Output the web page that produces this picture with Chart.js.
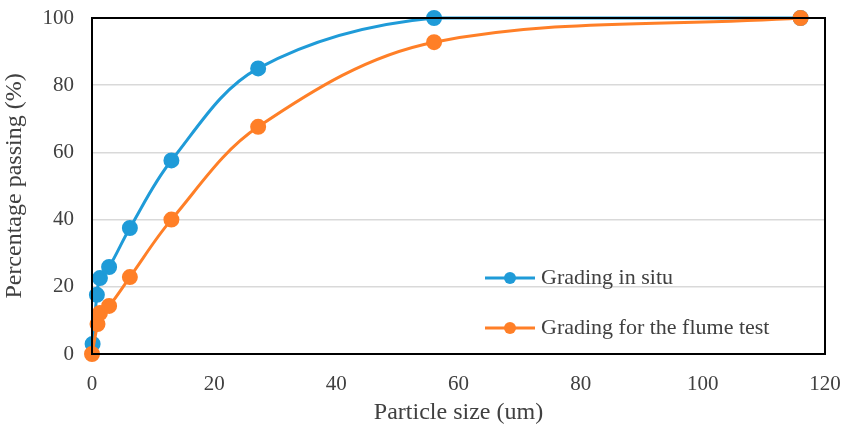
<!DOCTYPE html>
<html>
<head>
<meta charset="utf-8">
<script src="https://cdn.jsdelivr.net/npm/chart.js@4.4.1/dist/chart.umd.min.js"></script>
<style>
  html, body { margin: 0; padding: 0; background: #fff; }
  #wrap { width: 842px; height: 427px; position: relative; }
</style>
</head>
<body>
<div id="wrap"><canvas id="grafik"></canvas></div>
<script>
/* =========================================================
   DATA
========================================================= */
const insituSize = [0.1, 0.8, 1.3, 2.8, 6.2, 13.0, 27.2, 56.0, 116];
const insituPass = [3.0, 17.6, 22.6, 25.9, 37.5, 57.6, 85.0, 100, 100];

const flumeSize = [0, 0.9, 1.3, 2.8, 6.2, 13.0, 27.2, 56.0, 116];
const flumePass = [0, 8.9, 12.2, 14.3, 22.9, 40.0, 67.6, 92.8, 100];

const xTicks = [0, 20, 40, 60, 80, 100, 120];
const yTicks = [0, 20, 40, 60, 80, 100];

const BLUE = "#1f9bd8";
const ORANGE = "#ff7f27";
const TEXT = "#404040";
const FONT = "'Liberation Serif', 'Times New Roman', serif";

function toXY(xs, ys) {
  return xs.map((x, i) => ({ x, y: ys[i] }));
}

/* =========================================================
   PLUGIN: kotak plot + legenda di dalam area
========================================================= */
const boxLegend = {
  id: "boxLegend",
  afterDraw(chart) {
    const { ctx, chartArea: a } = chart;
    ctx.save();
    ctx.strokeStyle = "#000";
    ctx.lineWidth = 2;
    ctx.strokeRect(a.left, a.top, a.right - a.left, a.bottom - a.top);

    const items = chart.data.datasets;
    const rows = [278, 328];
    items.forEach((ds, i) => {
      const y = rows[i];
      const x0 = 485;
      ctx.strokeStyle = ds.borderColor;
      ctx.lineWidth = 3;
      ctx.beginPath();
      ctx.moveTo(x0, y);
      ctx.lineTo(x0 + 50, y);
      ctx.stroke();
      ctx.fillStyle = ds.borderColor;
      ctx.beginPath();
      ctx.arc(x0 + 25, y, 6, 0, Math.PI * 2);
      ctx.fill();
      ctx.fillStyle = TEXT;
      ctx.font = "22px " + FONT;
      ctx.textBaseline = "middle";
      ctx.fillText(ds.label, x0 + 56, y);
    });
    ctx.restore();
  }
};

/* =========================================================
   GRAFIK
========================================================= */
new Chart(document.getElementById("grafik"), {
  type: "line",
  data: {
    datasets: [
      {
        label: "Grading in situ",
        data: toXY(insituSize, insituPass),
        borderColor: BLUE,
        backgroundColor: BLUE,
        borderWidth: 3,
        pointRadius: 6.5,
        pointHoverRadius: 6.5,
        tension: 0.35,
        clip: false,
        order: 1
      },
      {
        label: "Grading for the flume test",
        data: toXY(flumeSize, flumePass),
        borderColor: ORANGE,
        backgroundColor: ORANGE,
        borderWidth: 3,
        pointRadius: 6.5,
        pointHoverRadius: 6.5,
        tension: 0.35,
        clip: false,
        order: 0
      }
    ]
  },
  options: {
    responsive: true,
    maintainAspectRatio: false,
    animation: false,
    layout: { padding: { top: 18, right: 17, left: 0, bottom: 0 } },
    plugins: {
      legend: { display: false },
      tooltip: { enabled: false }
    },
    scales: {
      x: {
        type: "linear",
        min: 0,
        max: 120,
        afterBuildTicks: s => { s.ticks = xTicks.map(v => ({ value: v })); },
        afterFit: s => { s.height = 73; s.paddingLeft = 0; s.paddingRight = 0; },
        grid: { display: false },
        border: { display: true, color: "#000", width: 2 },
        ticks: { color: TEXT, font: { family: FONT, size: 21 }, padding: 10 },
        title: {
          display: true,
          text: "Particle size (um)",
          color: TEXT,
          font: { family: FONT, size: 24 },
          padding: { top: 0, bottom: 0 }
        }
      },
      y: {
        min: 0,
        max: 100,
        afterBuildTicks: s => { s.ticks = yTicks.map(v => ({ value: v })); },
        afterFit: s => { s.width = 92; s.paddingTop = 0; s.paddingBottom = 0; },
        grid: { color: "#d9d9d9", lineWidth: 1.5, drawTicks: false },
        border: { display: true, color: "#000", width: 2 },
        ticks: { color: TEXT, font: { family: FONT, size: 21 }, padding: 18 },
        title: {
          display: true,
          text: "Percentage passing (%)",
          color: TEXT,
          font: { family: FONT, size: 24 },
          padding: { top: 0, bottom: 2 }
        }
      }
    }
  },
  plugins: [boxLegend]
});
</script>
</body>
</html>
